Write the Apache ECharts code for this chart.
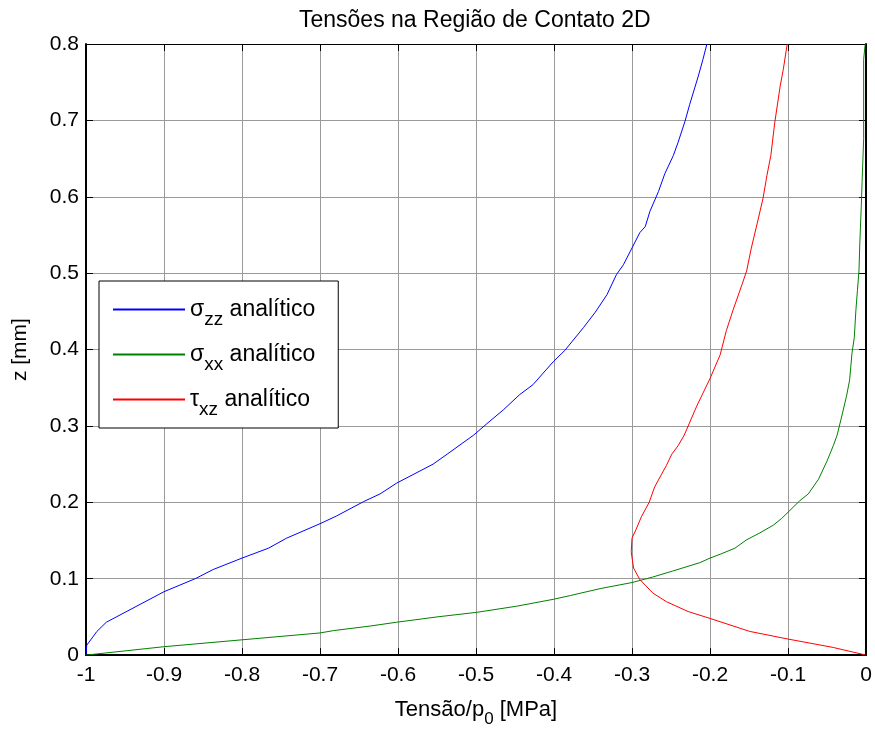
<!DOCTYPE html>
<html>
<head>
<meta charset="utf-8">
<script src="https://cdn.jsdelivr.net/npm/echarts@6/dist/echarts.min.js"></script>
<style>
  html, body { margin: 0; padding: 0; background: #fff; }
  #chart { width: 875px; height: 733px; }
</style>
</head>
<body>
<div id="chart"></div>
<script>
// valores (tensão/p0 , z em mm)
var szzX = [-1.0, -0.999, -0.986, -0.974, -0.9, -0.86, -0.837, -0.8, -0.766, -0.743, -0.7, -0.679, -0.644, -0.623, -0.602, -0.555, -0.537, -0.503, -0.486, -0.465, -0.444, -0.427, -0.401, -0.386, -0.362, -0.347, -0.332, -0.320, -0.311, -0.300, -0.290, -0.283, -0.277, -0.266, -0.258, -0.247, -0.241, -0.232, -0.226, -0.215, -0.209, -0.204];
var szzZ = [0.0, 0.013, 0.031, 0.043, 0.083, 0.1, 0.112, 0.127, 0.140, 0.153, 0.172, 0.182, 0.201, 0.211, 0.225, 0.25, 0.263, 0.288, 0.303, 0.321, 0.341, 0.354, 0.384, 0.399, 0.429, 0.449, 0.472, 0.498, 0.511, 0.533, 0.553, 0.561, 0.581, 0.607, 0.630, 0.654, 0.671, 0.699, 0.721, 0.758, 0.780, 0.8];

var sxxX = [-1.0, -0.9, -0.8, -0.7, -0.683, -0.636, -0.602, -0.550, -0.499, -0.448, -0.401, -0.379, -0.341, -0.300, -0.274, -0.248, -0.213, -0.200, -0.187, -0.168, -0.153, -0.136, -0.119, -0.108, -0.100, -0.085, -0.074, -0.061, -0.050, -0.042, -0.037, -0.031, -0.025, -0.021, -0.018, -0.015, -0.013, -0.011, -0.009, -0.008, -0.006, -0.005, -0.003, -0.003, -0.001];
var sxxZ = [0.0, 0.011, 0.020, 0.029, 0.032, 0.038, 0.043, 0.050, 0.056, 0.064, 0.073, 0.078, 0.087, 0.095, 0.102, 0.110, 0.121, 0.127, 0.132, 0.140, 0.151, 0.160, 0.170, 0.179, 0.187, 0.202, 0.211, 0.230, 0.254, 0.274, 0.288, 0.313, 0.339, 0.360, 0.395, 0.416, 0.451, 0.477, 0.503, 0.537, 0.589, 0.620, 0.676, 0.780, 0.8];

var txzX = [0.0, -0.042, -0.1, -0.149, -0.2, -0.228, -0.256, -0.273, -0.29, -0.298, -0.301, -0.300, -0.295, -0.288, -0.278, -0.271, -0.262, -0.256, -0.249, -0.241, -0.233, -0.217, -0.2, -0.187, -0.179, -0.170, -0.159, -0.153, -0.147, -0.140, -0.132, -0.127, -0.122, -0.117, -0.110, -0.106, -0.101];
var txzZ = [0.0, 0.010, 0.021, 0.031, 0.048, 0.057, 0.070, 0.081, 0.099, 0.114, 0.135, 0.153, 0.164, 0.181, 0.200, 0.220, 0.237, 0.248, 0.263, 0.274, 0.288, 0.326, 0.362, 0.393, 0.425, 0.453, 0.485, 0.503, 0.533, 0.563, 0.598, 0.628, 0.654, 0.697, 0.745, 0.767, 0.8];

var serieNomes = ['szz', 'sxx', 'txz'];
var serieCores = ['#0000ff', '#008000', '#ff0000'];
var legendaTextos = {
  szz: '{m|σ}{s|zz}{m| analítico}',
  sxx: '{m|σ}{s|xx}{m| analítico}',
  txz: '{m|τ}{s|xz}{m| analítico}'
};

function pares(xs, zs) {
  var out = [];
  for (var i = 0; i < xs.length; i++) out.push([xs[i], zs[i]]);
  return out;
}

var fonte = '"Liberation Sans", Arial, sans-serif';
var richSub = {
  m: { fontSize: 23, fontFamily: fonte, color: '#000', lineHeight: 24, verticalAlign: 'middle' },
  s: { fontSize: 19, fontFamily: fonte, color: '#000', lineHeight: 24, verticalAlign: 'middle', padding: [20, 0, 0, 0] }
};

var myChart = echarts.init(document.getElementById('chart'));

var option = {
  animation: false,
  backgroundColor: '#fff',
  title: {
    text: 'Tensões na Região de Contato 2D',
    left: 294,
    top: 4,
    textStyle: { fontFamily: fonte, fontSize: 23, fontWeight: 'normal', color: '#000' }
  },
  grid: { left: 86, right: 9, top: 44, bottom: 72 },
  legend: {
    data: serieNomes.map(function (n, i) {
      return { name: n, itemStyle: { color: serieCores[i] } };
    }),
    orient: 'vertical',
    left: 99,
    top: 281,
    padding: [9, 23, 9, 14],
    itemGap: 6,
    itemWidth: 72,
    itemHeight: 2,
    icon: 'rect',
    backgroundColor: '#fff',
    borderColor: '#000',
    borderWidth: 1,
    borderRadius: 0,
    formatter: function (name) { return legendaTextos[name]; },
    textStyle: { fontFamily: fonte, fontSize: 23, color: '#000', rich: richSub }
  },
  xAxis: [
    {
      type: 'value',
      min: -1,
      max: 0,
      interval: 0.1,
      position: 'bottom',
      name: '{m|Tensão/p}{s|0}{m| [MPa]}',
      nameLocation: 'middle',
      nameGap: 29,
      nameTextStyle: { fontFamily: fonte, fontSize: 22, color: '#000', rich: {
        m: { fontSize: 22, fontFamily: fonte, color: '#000', lineHeight: 24, verticalAlign: 'middle' },
        s: { fontSize: 17, fontFamily: fonte, color: '#000', lineHeight: 24, verticalAlign: 'middle', padding: [20, 0, 0, 0] }
      } },
      axisLine: { show: true, onZero: false, lineStyle: { color: '#000', width: 2 } },
      axisTick: { show: true, inside: true, length: 7, lineStyle: { color: '#000', width: 1 } },
      axisLabel: { fontFamily: fonte, fontSize: 21, color: '#000', margin: 10 },
      splitLine: { show: true, lineStyle: { color: '#9a9a9a', width: 1 } }
    },
    {
      type: 'value',
      min: -1,
      max: 0,
      interval: 0.1,
      position: 'top',
      axisLine: { show: true, onZero: false, lineStyle: { color: '#000', width: 1 } },
      axisTick: { show: true, inside: true, length: 7, lineStyle: { color: '#000', width: 1 } },
      axisLabel: { show: false },
      splitLine: { show: false }
    }
  ],
  yAxis: [
    {
      type: 'value',
      min: 0,
      max: 0.8,
      interval: 0.1,
      position: 'left',
      name: 'z [mm]',
      nameLocation: 'middle',
      nameGap: 55,
      nameRotate: 90,
      nameTextStyle: { fontFamily: fonte, fontSize: 21, color: '#000' },
      axisLine: { show: true, onZero: false, lineStyle: { color: '#000', width: 2 } },
      axisTick: { show: true, inside: true, length: 7, lineStyle: { color: '#000', width: 1 } },
      axisLabel: { fontFamily: fonte, fontSize: 21, color: '#000', margin: 7 },
      splitLine: { show: true, lineStyle: { color: '#9a9a9a', width: 1 } }
    },
    {
      type: 'value',
      min: 0,
      max: 0.8,
      interval: 0.1,
      position: 'right',
      axisLine: { show: true, onZero: false, lineStyle: { color: '#000', width: 2 } },
      axisTick: { show: true, inside: true, length: 7, lineStyle: { color: '#000', width: 1 } },
      axisLabel: { show: false },
      splitLine: { show: false }
    }
  ],
  series: [
    {
      name: 'szz',
      type: 'line',
      data: pares(szzX, szzZ),
      showSymbol: false,
      symbol: 'none',
      lineStyle: { color: serieCores[0], width: 1 },
      itemStyle: { color: serieCores[0] }
    },
    {
      name: 'sxx',
      type: 'line',
      data: pares(sxxX, sxxZ),
      showSymbol: false,
      symbol: 'none',
      lineStyle: { color: serieCores[1], width: 1 },
      itemStyle: { color: serieCores[1] }
    },
    {
      name: 'txz',
      type: 'line',
      data: pares(txzX, txzZ),
      showSymbol: false,
      symbol: 'none',
      lineStyle: { color: serieCores[2], width: 1 },
      itemStyle: { color: serieCores[2] }
    }
  ]
};

myChart.setOption(option);
</script>
</body>
</html>
